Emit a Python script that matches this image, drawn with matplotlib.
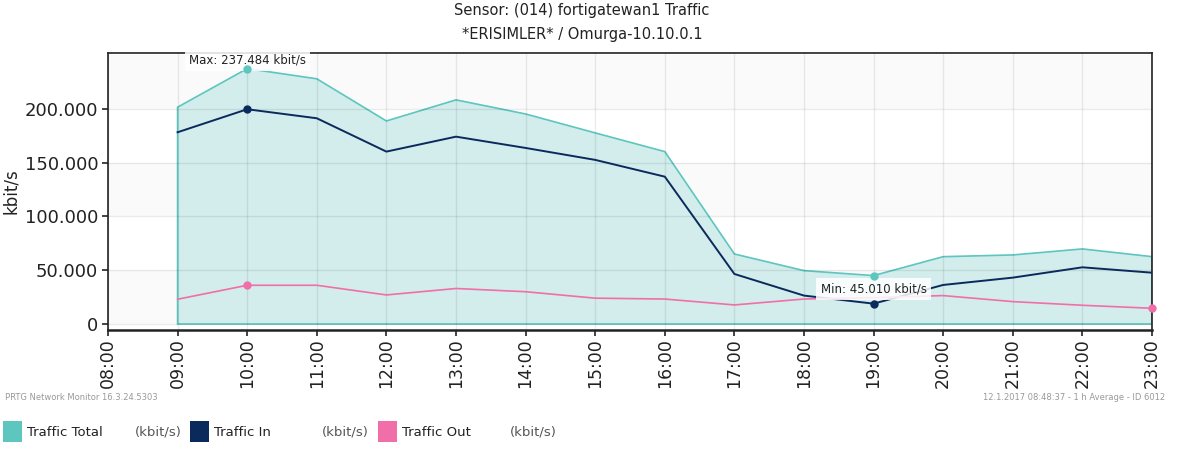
import numpy as np
import matplotlib
matplotlib.use("Agg")
import matplotlib.pyplot as plt
from matplotlib.ticker import FuncFormatter
from matplotlib.patches import Rectangle

# DATA (hourly averages, kbit/s)
hours = [9, 10, 11, 12, 13, 14, 15, 16, 17, 18, 19, 20, 21, 22, 23]
traffic_total = [201600, 237484, 228000, 188800, 208400, 195300, 177700, 160300,
                 65100, 49600, 45010, 62600, 64200, 69800, 62600]
traffic_in = [178300, 199700, 191300, 160300, 174200, 163700, 152600, 137000,
              46500, 26400, 18900, 36300, 43100, 52700, 47700]
traffic_out = [23000, 36000, 36000, 27000, 33000, 30000, 24000, 23200,
               17700, 23200, 24500, 26400, 20800, 17400, 14600]
x_ticks = list(range(8, 24))
x_labels = ["%02d:00" % h for h in x_ticks]
y_ticks = [0, 50000, 100000, 150000, 200000]

title_1 = "Sensor: (014) fortigatewan1 Traffic"
title_2 = "*ERISIMLER* / Omurga-10.10.0.1"
footer_left = "PRTG Network Monitor 16.3.24.5303"
footer_right = "12.1.2017 08:48:37 - 1 h Average - ID 6012"

# COLOURS
c_total = "#5cc6bf"
c_fill = "#d3ecec"
c_in = "#0b2a5c"
c_out = "#f06fa8"

fig = plt.figure(figsize=(11.92, 4.5), dpi=100)
ax = fig.add_axes([108 / 1192, 1 - 330 / 450, (1152 - 108) / 1192, (330 - 53) / 450])

ax.set_xlim(8, 23)
ax.set_ylim(-5600, 252000)

# alternating background bands
for i, lo in enumerate(range(0, 250001, 50000)):
    if i % 2 == 0:
        ax.axhspan(lo, lo + 50000, color="#fafafa", zorder=0, lw=0)

# total as filled area
poly_x = [hours[0]] + hours + [hours[-1]]
poly_y = [0] + traffic_total + [0]
ax.fill(poly_x, poly_y, facecolor=c_fill, edgecolor=c_total, lw=1.2, zorder=1)

# grid above the fill
ax.grid(True, color="black", alpha=0.08, lw=1, zorder=2)
ax.set_axisbelow(False)

ax.plot(hours, traffic_in, color=c_in, lw=1.4, zorder=3)
ax.plot(hours, traffic_out, color=c_out, lw=1.2, zorder=3)

# min / max markers
for series, col in [(traffic_total, c_total), (traffic_in, c_in), (traffic_out, c_out)]:
    i_max = int(np.argmax(series))
    i_min = int(np.argmin(series))
    ax.plot([hours[i_max], hours[i_min]], [series[i_max], series[i_min]], "o",
            color=col, ms=5, zorder=7, clip_on=False)

i_max = int(np.argmax(traffic_total))
i_min = int(np.argmin(traffic_total))
fmt = lambda v: "{:,}".format(int(v)).replace(",", ".")
box = dict(boxstyle="square,pad=0.35", fc="white", ec="none", alpha=0.85)
ax.annotate("Max: %s kbit/s" % fmt(traffic_total[i_max]), (hours[i_max], traffic_total[i_max]),
            xytext=(0, 1.5), textcoords="offset points", ha="center", va="bottom",
            fontsize=8.5, color="#222", bbox=box, zorder=6, annotation_clip=False)
ax.annotate("Min: %s kbit/s" % fmt(traffic_total[i_min]), (hours[i_min], traffic_total[i_min]),
            xytext=(0, -5), textcoords="offset points", ha="center", va="top",
            fontsize=8.5, color="#222", bbox=box, zorder=6)

# axes styling
ax.set_yticks(y_ticks)
ax.yaxis.set_major_formatter(FuncFormatter(lambda v, p: fmt(v)))
ax.set_xticks(x_ticks)
ax.set_xticklabels(x_labels, rotation=90)
ax.tick_params(axis="y", labelsize=13, length=4, width=1.2, pad=3, colors="#222")
ax.tick_params(axis="x", labelsize=12.5, length=4, width=1.2, pad=2, colors="#222")
ax.set_ylabel("kbit/s", fontsize=12, color="#222", labelpad=3)
for s in ax.spines.values():
    s.set_color("#222")
    s.set_linewidth(1.2)
ax.spines["bottom"].set_linewidth(1.8)
ax.spines["top"].set_zorder(4)

# titles
fig.text(582 / 1192, 1 - 11 / 450, title_1, ha="center", va="center", fontsize=10.5, color="#222")
fig.text(582 / 1192, 1 - 35 / 450, title_2, ha="center", va="center", fontsize=10.5, color="#222")

# footer
fig.text(5 / 1192, 1 - 397 / 450, footer_left, ha="left", va="center", fontsize=6, color="#999")
fig.text(1165 / 1192, 1 - 397 / 450, footer_right, ha="right", va="center", fontsize=6, color="#999")

# legend
legend_items = [("Traffic Total", c_total, 3), ("Traffic In", c_in, 190), ("Traffic Out", c_out, 378)]
for name, col, x0 in legend_items:
    fig.patches.append(Rectangle((x0 / 1192, 1 - 442 / 450), 19 / 1192, 21 / 450,
                                 transform=fig.transFigure, facecolor=col, edgecolor="none"))
    fig.text((x0 + 24) / 1192, 1 - 432 / 450, name, ha="left", va="center", fontsize=9.5, color="#222")
    fig.text((x0 + 132) / 1192, 1 - 432 / 450, "(kbit/s)", ha="left", va="center", fontsize=9.5, color="#555")

fig.savefig("out.png", dpi=100)
